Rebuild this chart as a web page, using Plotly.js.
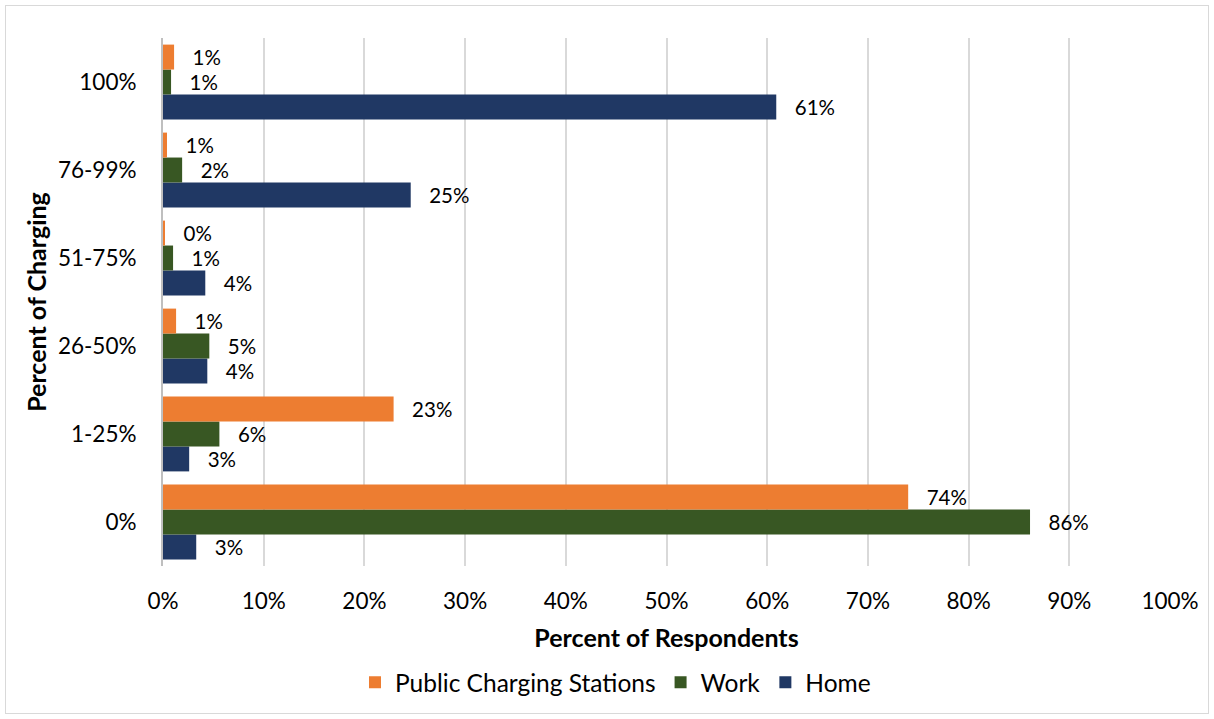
<!DOCTYPE html>
<html>
<head>
<meta charset="utf-8">
<script src="https://cdn.plot.ly/plotly-3.0.1.min.js"></script>
<style>
  html, body { margin: 0; padding: 0; background: #fff; }
  #chart { width: 1214px; height: 719px; }
  #frame { position: absolute; left: 5px; top: 5px; width: 1204px; height: 709px; border: 1px solid #d9d9d9; box-sizing: border-box; pointer-events: none; }
</style>
</head>
<body>
<div id="chart"></div>
<div id="frame"></div>
<script>
const categories = ['0%', '1-25%', '26-50%', '51-75%', '76-99%', '100%'];
const publicVals = [74.0, 22.9, 1.3, 0.2, 0.4, 1.1];
const workVals   = [86.1, 5.6, 4.6, 1.0, 1.9, 0.8];
const homeVals   = [3.3, 2.6, 4.4, 4.2, 24.6, 60.9];
const publicLabels = ['74%', '23%', '1%', '0%', '1%', '1%'];
const workLabels   = ['86%', '6%', '5%', '1%', '2%', '1%'];
const homeLabels   = ['3%', '3%', '4%', '4%', '25%', '61%'];
const xTickVals = [0, 10, 20, 30, 40, 50, 60, 70, 80, 90, 100];
const xTickText = ['0%', '10%', '20%', '30%', '40%', '50%', '60%', '70%', '80%', '90%', '100%'];

const FONT = 'Lato, "Open Sans", sans-serif';
const pad = s => '\u2002 ' + s;

function bar(name, vals, labels, color) {
  return {
    type: 'bar', orientation: 'h', name: name,
    y: categories, x: vals,
    text: labels.map(pad), textposition: 'outside', cliponaxis: false,
    textfont: { family: FONT, size: 20.5, color: '#000' },
    marker: { color: color },
    hoverinfo: 'x+y'
  };
}

const data = [
  bar('Home', homeVals, homeLabels, '#203864'),
  bar('Work', workVals, workLabels, '#385723'),
  bar('Public Charging Stations', publicVals, publicLabels, '#ED7D31')
];

const layout = {
  width: 1214, height: 719,
  margin: { l: 163, r: 44, t: 38, b: 153 },
  barmode: 'group', bargap: 0.15, bargroupgap: 0,
  font: { family: FONT, size: 22, color: '#000' },
  paper_bgcolor: '#fff', plot_bgcolor: '#fff',
  xaxis: {
    range: [0, 100], tickmode: 'array', tickvals: xTickVals, ticktext: xTickText,
    showgrid: true, gridcolor: '#d9d9d9', gridwidth: 2,
    zeroline: false, showline: false, ticks: '',
    ticklabelstandoff: 19,
    tickfont: { family: FONT, size: 22.5, color: '#000' },
    title: { text: '<b>Percent of Respondents</b>', font: { family: FONT, size: 25, color: '#000' }, standoff: 16 }
  },
  yaxis: {
    type: 'category', categoryorder: 'array', categoryarray: categories,
    showline: true, linecolor: '#bfbfbf', linewidth: 2, ticks: '',
    showgrid: false, zeroline: false,
    ticklabelstandoff: 20,
    tickfont: { family: FONT, size: 22.5, color: '#000' },
    title: { text: '<b>Percent of Charging</b>', font: { family: FONT, size: 25, color: '#000' }, standoff: 4 }
  },
  showlegend: true,
  legend: {
    orientation: 'h', traceorder: 'reversed',
    xref: 'container', yref: 'container',
    x: 0.507, xanchor: 'center', y: 0.051, yanchor: 'middle',
    font: { family: FONT, size: 24.5, color: '#000' },
    itemwidth: 30
  }
};

Plotly.newPlot('chart', data, layout, { displayModeBar: false, staticPlot: true });
</script>
</body>
</html>
